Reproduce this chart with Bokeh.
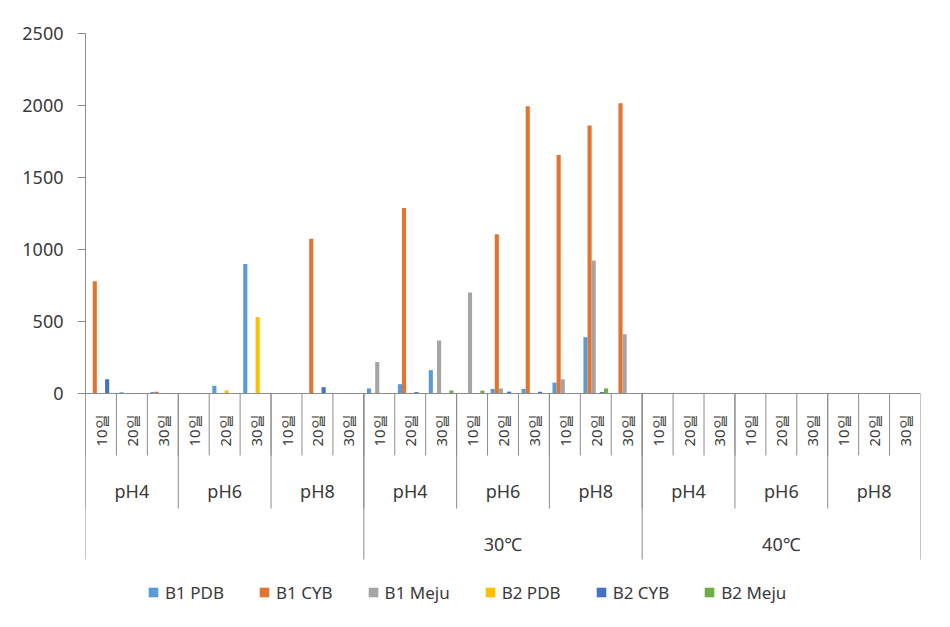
import math
from bokeh.plotting import figure
from bokeh.models import (ColumnDataSource, FactorRange, Range1d, FixedTicker, Span,
                          Legend, LegendItem)
from bokeh.transform import dodge
from bokeh.core.properties import value
from bokeh.embed import file_html
from bokeh.resources import INLINE

# ---------------- data ----------------
temps = ["", "30℃", "40℃"]
phs = ["pH4", "pH6", "pH8"]
days = ["10일", "20일", "30일"]

series_names = ["B1 PDB", "B1 CYB", "B1 Meju", "B2 PDB", "B2 CYB", "B2 Meju"]
series_colors = ["#5B9BD5", "#E37330", "#A5A5A5", "#FFC000", "#4472C4", "#70AD47"]

b1_pdb = [0, 8, 10, 0, 53, 900, 0, 0, 0,
          35, 65, 162, 0, 32, 32, 76, 391, 0,
          0, 0, 0, 0, 0, 0, 0, 0, 0]
b1_cyb = [780, 0, 12, 0, 0, 0, 0, 1074, 0,
          0, 1289, 0, 0, 1106, 1995, 1657, 1861, 2016,
          0, 0, 0, 0, 0, 0, 0, 0, 0]
b1_meju = [0, 0, 0, 0, 0, 0, 0, 0, 0,
           218, 0, 368, 701, 35, 0, 99, 924, 412,
           0, 0, 0, 0, 0, 0, 0, 0, 0]
b2_pdb = [0, 0, 0, 0, 21, 530, 0, 0, 0,
          0, 0, 0, 0, 0, 0, 0, 0, 0,
          0, 0, 0, 0, 0, 0, 0, 0, 0]
b2_cyb = [99, 0, 0, 0, 0, 0, 0, 44, 0,
          0, 10, 0, 0, 13, 12, 0, 10, 0,
          0, 0, 0, 0, 0, 0, 0, 0, 0]
b2_meju = [0, 0, 0, 0, 0, 0, 0, 0, 0,
           0, 0, 21, 20, 0, 0, 0, 35, 0,
           0, 0, 0, 0, 0, 0, 0, 0, 0]

y_ticks = [0, 500, 1000, 1500, 2000, 2500]

# ---------------- layout helpers ----------------
Y_MAX = 2500
PX_PLOT = 360.0             # pixels from 0 to 2500
U = Y_MAX / PX_PLOT         # data units per pixel
def depth(px):               # position px pixels below the zero line
    return -px * U

TEXT_COLOR = "#3A3A3A"
AXIS_COLOR = "#8C8C8C"
FONT = "Noto Sans"

factors = [(t, p, d) for t in temps for p in phs for d in days]
series_values = [b1_pdb, b1_cyb, b1_meju, b2_pdb, b2_cyb, b2_meju]

data = {"x": factors}
cols = []
for i, vals in enumerate(series_values):
    c = "s%d" % i
    data[c] = vals
    cols.append(c)
src = ColumnDataSource(data)

x_range = FactorRange(*factors, factor_padding=0, subgroup_padding=0,
                      group_padding=0, range_padding=0)

p = figure(x_range=x_range, y_range=Range1d(depth(211), Y_MAX),
           width=942, height=620, output_backend="svg", toolbar_location=None,
           x_axis_location=None, min_border_left=85, min_border_right=22,
           min_border_top=33, min_border_bottom=16)
p.outline_line_color = None
p.xgrid.visible = False
p.ygrid.visible = False
p.background_fill_color = "white"

# y axis
yax = p.yaxis[0]
yax.ticker = FixedTicker(ticks=y_ticks)
yax.bounds = (0, Y_MAX)
yax.axis_line_color = AXIS_COLOR
yax.major_tick_line_color = AXIS_COLOR
yax.major_tick_out = 8
yax.major_tick_in = 0
yax.minor_tick_line_color = None
yax.major_label_standoff = 14
yax.major_label_text_font = FONT
yax.major_label_text_font_size = "18px"
yax.major_label_text_color = TEXT_COLOR

# bars
BW = 1 / 7.5
renderers = []
for s, (c, color) in enumerate(zip(cols, series_colors)):
    r = p.vbar(x=dodge("x", (s - 2.5) * BW, range=x_range), top=c, bottom=0,
               width=BW, source=src, fill_color=color, line_color=None)
    renderers.append(r)

# legend swatch proxies: zero-size square markers (invisible in the plot)
swatches = []
for color in series_colors:
    sw = p.scatter(x="x", y=0, size=0, marker="square", source=src,
                   fill_color=color, line_color=None)
    swatches.append(sw)

# zero line
p.add_layout(Span(location=0, dimension="width", line_color=AXIS_COLOR, line_width=1))

# category separators
day_d = depth(62)
ph_d = depth(115)
temp_d = depth(166)
sep_kw = dict(line_color=AXIS_COLOR, line_width=1)
p.segment(x0=dodge("x", -0.5, range=x_range), x1=dodge("x", -0.5, range=x_range),
          y0=0, y1=day_d, source=src, **sep_kw)
ph_src = ColumnDataSource({"x": [(t, ph, days[0]) for t in temps for ph in phs]})
p.segment(x0=dodge("x", -0.5, range=x_range), x1=dodge("x", -0.5, range=x_range),
          y0=0, y1=ph_d, source=ph_src, **sep_kw)
t_src = ColumnDataSource({"x": [(t, phs[0], days[0]) for t in temps]})
p.segment(x0=dodge("x", -0.5, range=x_range), x1=dodge("x", -0.5, range=x_range),
          y0=0, y1=temp_d, source=t_src, **sep_kw)
end_src = ColumnDataSource({"x": [factors[-1]]})
p.segment(x0=dodge("x", 0.5, range=x_range), x1=dodge("x", 0.5, range=x_range),
          y0=0, y1=temp_d, source=end_src, **sep_kw)

# day labels (rotated)
day_src = ColumnDataSource({"x": factors, "label": [f[2] for f in factors]})
p.text(x="x", y=depth(37), text="label", source=day_src, angle=math.pi / 2,
       text_align="center", text_baseline="middle", text_font=value(FONT),
       text_font_size="15px", text_color=TEXT_COLOR)

# pH labels
ph_lab_src = ColumnDataSource({"x": [(t, ph, days[1]) for t in temps for ph in phs],
                               "label": [ph for t in temps for ph in phs]})
p.text(x="x", y=depth(97), text="label", source=ph_lab_src,
       text_align="center", text_baseline="middle", text_font=value(FONT),
       text_font_size="18px", text_color=TEXT_COLOR)

# temperature labels
t_lab_src = ColumnDataSource({"x": [(t, phs[1], days[1]) for t in temps],
                              "label": temps})
p.text(x="x", y=depth(150), text="label", source=t_lab_src,
       text_align="center", text_baseline="middle", text_font=value(FONT),
       text_font_size="18px", text_color=TEXT_COLOR)

# legend
legend = Legend(items=[LegendItem(label=n, renderers=[sw])
                       for n, sw in zip(series_names, swatches)],
                orientation="horizontal", location=(56, 0),
                glyph_width=24, glyph_height=24, label_standoff=0,
                spacing=28, padding=0, margin=0, label_height=20,
                label_text_font=FONT, label_text_font_size="17px",
                label_text_color=TEXT_COLOR, border_line_color=None,
                background_fill_alpha=0)
p.add_layout(legend)

open("out.html", "w").write(file_html(p, INLINE))
